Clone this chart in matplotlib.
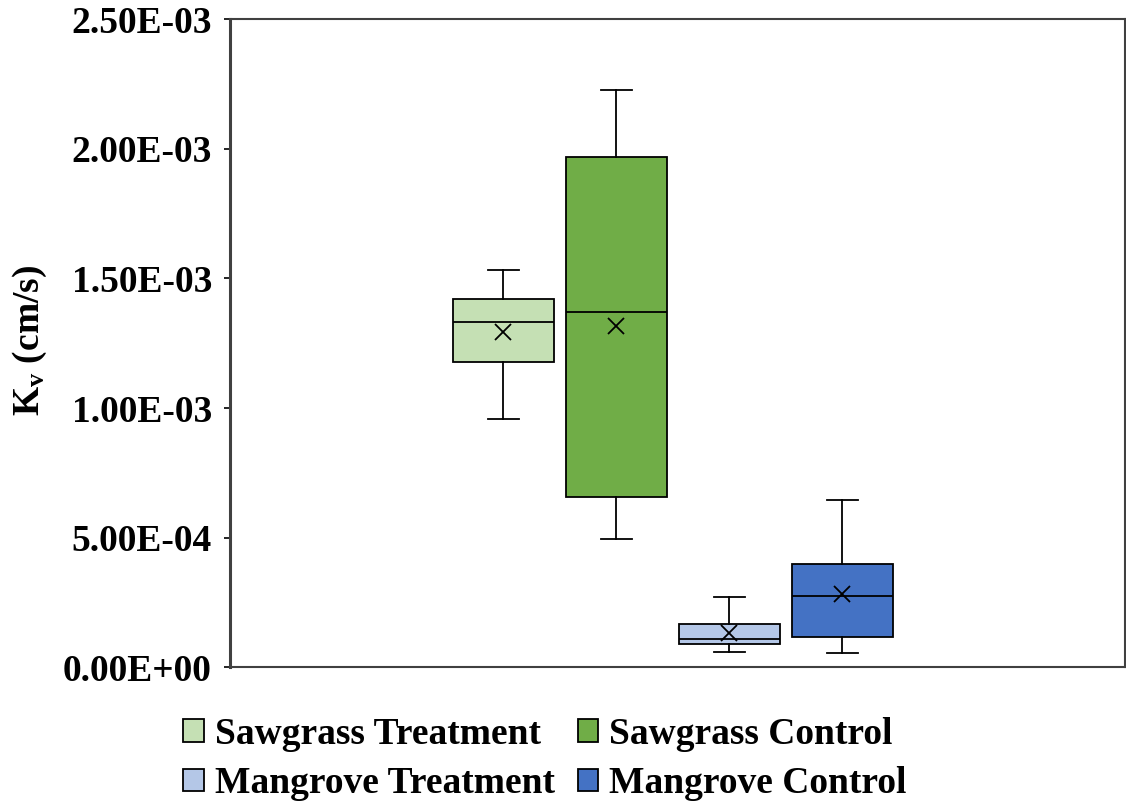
import matplotlib
matplotlib.use("Agg")
import matplotlib.pyplot as plt
from matplotlib.patches import Patch
from matplotlib.ticker import FuncFormatter, MultipleLocator

plt.rcParams['font.family'] = ['Liberation Serif', 'DejaVu Serif']
plt.rcParams['font.weight'] = 'bold'
plt.rcParams['mathtext.fontset'] = 'custom'
plt.rcParams['mathtext.rm'] = 'Liberation Serif:bold'
plt.rcParams['mathtext.it'] = 'Liberation Serif:bold'
plt.rcParams['mathtext.bf'] = 'Liberation Serif:bold'

# box statistics (cm/s)
groups = ["Sawgrass Treatment", "Sawgrass Control", "Mangrove Treatment", "Mangrove Control"]
colors = ["#C5E0B4", "#70AD47", "#B4C7E7", "#4472C4"]
whisk_low = [0.956e-3, 0.495e-3, 0.057e-3, 0.055e-3]
q1 = [1.179e-3, 0.658e-3, 0.088e-3, 0.117e-3]
median = [1.333e-3, 1.371e-3, 0.107e-3, 0.275e-3]
q3 = [1.420e-3, 1.968e-3, 0.166e-3, 0.396e-3]
whisk_high = [1.533e-3, 2.229e-3, 0.270e-3, 0.643e-3]
mean = [1.292e-3, 1.316e-3, 0.130e-3, 0.281e-3]

stats = []
for i, g in enumerate(groups):
    stats.append(dict(label=g, whislo=whisk_low[i], q1=q1[i], med=median[i],
                      q3=q3[i], whishi=whisk_high[i], mean=mean[i], fliers=[]))

fig = plt.figure(figsize=(11.26, 8.05), dpi=100)
ax = fig.add_axes([0.2043, 0.1714, 0.7948, 0.8044])

lw = 1.3
pos = [1, 2, 3, 4]
bp = ax.bxp(stats, positions=pos, widths=0.89, patch_artist=True, showmeans=True,
            capwidths=0.27,
            boxprops=dict(edgecolor='black', linewidth=lw),
            medianprops=dict(color='black', linewidth=lw),
            whiskerprops=dict(color='black', linewidth=lw),
            capprops=dict(color='black', linewidth=lw),
            meanprops=dict(marker='x', markersize=12, markeredgecolor='black',
                           markeredgewidth=lw))
for patch, c in zip(bp['boxes'], colors):
    patch.set_facecolor(c)

ax.set_xlim(-1.42, 6.5)
ax.set_ylim(0, 2.5e-3)
ax.yaxis.set_major_locator(MultipleLocator(0.5e-3))
ax.yaxis.set_major_formatter(FuncFormatter(lambda v, p: f"{v:.2E}"))
ax.set_xticks([])
ax.tick_params(axis='y', direction='out', length=4, width=1.2, pad=9,
               labelsize=27)
for lab in ax.get_yticklabels():
    lab.set_fontweight('bold')
for s in ax.spines.values():
    s.set_color('#404040')
    s.set_linewidth(1.5)
ax.spines['left'].set_linewidth(2.2)

fig.text(30 / 1126, 1 - 340 / 805, r"K$_{\mathrm{v}}$ (cm/s)", rotation=90,
         ha='center', va='center', fontsize=27, fontweight='bold')

# legend is filled row by row in the reference
order = [0, 2, 1, 3]
handles = [Patch(facecolor=colors[i], edgecolor='black', linewidth=1.3) for i in order]
labels = [groups[i] for i in order]
fig.legend(handles, labels, ncol=2, frameon=False, loc='center',
           bbox_to_anchor=(545 / 1126, 1 - 759 / 805),
           prop=dict(size=27, weight='bold'), handlelength=0.55, handleheight=0.55,
           handletextpad=0.3, columnspacing=0.6, labelspacing=0.38)

fig.savefig("out.png", dpi=100)
